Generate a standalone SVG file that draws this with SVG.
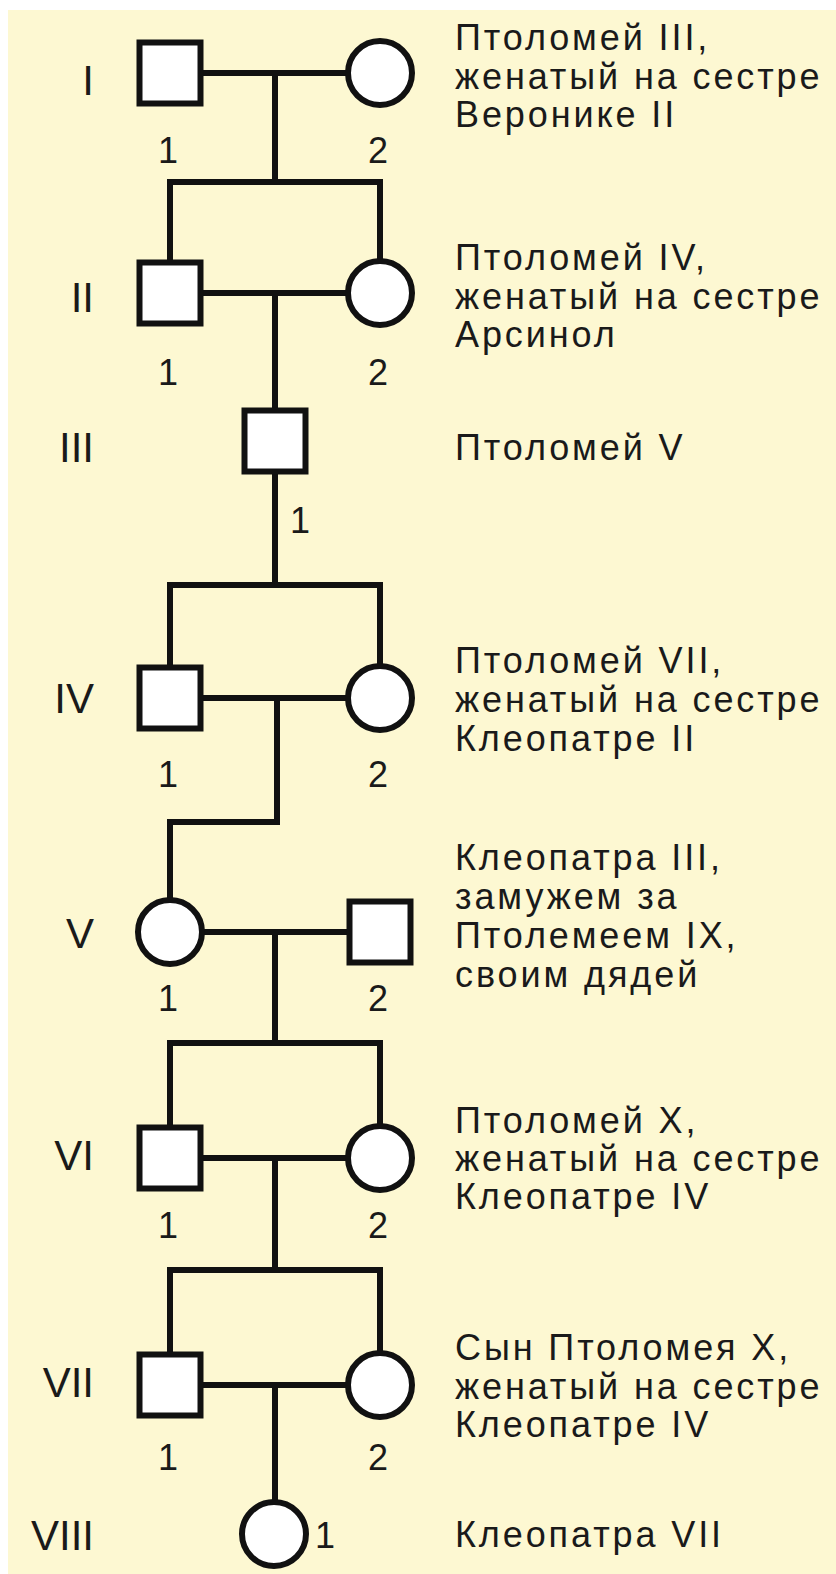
<svg xmlns="http://www.w3.org/2000/svg" width="836" height="1574" viewBox="0 0 836 1574">
  <style>
    .bg { fill: #fdf8d2; }
    .line { fill: none; stroke: #111; stroke-width: 6; stroke-linejoin: miter; }
    .node { fill: #ffffff; stroke: #111; stroke-width: 6; }
    .gen { font-family: "Liberation Sans", Arial, sans-serif; font-size: 42px; fill: #1a1a1a; text-anchor: end; }
    .num { font-family: "Liberation Sans", Arial, sans-serif; font-size: 36px; fill: #1a1a1a; text-anchor: middle; }
    .note { font-family: "Liberation Sans", Arial, sans-serif; font-size: 36px; fill: #1a1a1a; letter-spacing: 2.9px; }
  </style>

  <rect width="836" height="1574" fill="#ffffff"/>
  <rect class="bg" x="8" y="10" width="828" height="1564"/>

  <!-- generation numerals -->
  <g id="generations">
    <text class="gen" x="94" y="95">I</text>
    <text class="gen" x="94" y="312">II</text>
    <text class="gen" x="94" y="462">III</text>
    <text class="gen" x="94" y="713">IV</text>
    <text class="gen" x="94" y="948">V</text>
    <text class="gen" x="94" y="1170">VI</text>
    <text class="gen" x="94" y="1397">VII</text>
    <text class="gen" x="94" y="1550">VIII</text>
  </g>

  <!-- marriage, descent and sibship lines -->
  <g id="connectors">
    <!-- I -->
    <path class="line" d="M200,73 H348"/>
    <path class="line" d="M275,73 V182"/>
    <path class="line" d="M170,262 V182 H380 V262"/>
    <!-- II -->
    <path class="line" d="M200,293 H348"/>
    <path class="line" d="M275,293 V410"/>
    <!-- III -->
    <path class="line" d="M275,472 V585"/>
    <path class="line" d="M170,667 V585 H380 V667"/>
    <!-- IV -->
    <path class="line" d="M200,698 H348"/>
    <path class="line" d="M277,698 V822 H170 V900"/>
    <!-- V -->
    <path class="line" d="M202,932 H349"/>
    <path class="line" d="M275,932 V1043"/>
    <path class="line" d="M170,1127 V1043 H380 V1127"/>
    <!-- VI -->
    <path class="line" d="M200,1158 H348"/>
    <path class="line" d="M275,1158 V1270"/>
    <path class="line" d="M170,1354 V1270 H380 V1354"/>
    <!-- VII -->
    <path class="line" d="M200,1385 H348"/>
    <path class="line" d="M275,1385 V1502"/>
  </g>

  <!-- Generation I -->
  <g id="I-1">
    <rect class="node" x="139.5" y="42.5" width="61" height="61"/>
    <text class="num" x="168" y="163">1</text>
  </g>
  <g id="I-2">
    <circle class="node" cx="380" cy="73" r="32"/>
    <text class="num" x="378" y="163">2</text>
  </g>
  <g id="note-I">
    <text class="note" x="455" y="50">Птоломей III,</text>
    <text class="note" x="455" y="89">женатый на сестре</text>
    <text class="note" x="455" y="127">Веронике II</text>
  </g>

  <!-- Generation II -->
  <g id="II-1">
    <rect class="node" x="139.5" y="262.5" width="61" height="61"/>
    <text class="num" x="168" y="385">1</text>
  </g>
  <g id="II-2">
    <circle class="node" cx="380" cy="293" r="32"/>
    <text class="num" x="378" y="385">2</text>
  </g>
  <g id="note-II">
    <text class="note" x="455" y="270">Птоломей IV,</text>
    <text class="note" x="455" y="309">женатый на сестре</text>
    <text class="note" x="455" y="347">Арсинол</text>
  </g>

  <!-- Generation III -->
  <g id="III-1">
    <rect class="node" x="244.5" y="410.5" width="61" height="61"/>
    <text class="num" x="300" y="533">1</text>
  </g>
  <g id="note-III">
    <text class="note" x="455" y="460">Птоломей V</text>
  </g>

  <!-- Generation IV -->
  <g id="IV-1">
    <rect class="node" x="139.5" y="667.5" width="61" height="61"/>
    <text class="num" x="168" y="787">1</text>
  </g>
  <g id="IV-2">
    <circle class="node" cx="380" cy="698" r="32"/>
    <text class="num" x="378" y="787">2</text>
  </g>
  <g id="note-IV">
    <text class="note" x="455" y="673">Птоломей VII,</text>
    <text class="note" x="455" y="712">женатый на сестре</text>
    <text class="note" x="455" y="751">Клеопатре II</text>
  </g>

  <!-- Generation V -->
  <g id="V-1">
    <circle class="node" cx="170" cy="932" r="32"/>
    <text class="num" x="168" y="1011">1</text>
  </g>
  <g id="V-2">
    <rect class="node" x="349.5" y="901.5" width="61" height="61"/>
    <text class="num" x="378" y="1011">2</text>
  </g>
  <g id="note-V">
    <text class="note" x="455" y="870">Клеопатра III,</text>
    <text class="note" x="455" y="909">замужем за</text>
    <text class="note" x="455" y="948">Птолемеем IX,</text>
    <text class="note" x="455" y="987">своим дядей</text>
  </g>

  <!-- Generation VI -->
  <g id="VI-1">
    <rect class="node" x="139.5" y="1127.5" width="61" height="61"/>
    <text class="num" x="168" y="1238">1</text>
  </g>
  <g id="VI-2">
    <circle class="node" cx="380" cy="1158" r="32"/>
    <text class="num" x="378" y="1238">2</text>
  </g>
  <g id="note-VI">
    <text class="note" x="455" y="1133">Птоломей X,</text>
    <text class="note" x="455" y="1171">женатый на сестре</text>
    <text class="note" x="455" y="1209">Клеопатре IV</text>
  </g>

  <!-- Generation VII -->
  <g id="VII-1">
    <rect class="node" x="139.5" y="1354.5" width="61" height="61"/>
    <text class="num" x="168" y="1470">1</text>
  </g>
  <g id="VII-2">
    <circle class="node" cx="380" cy="1385" r="32"/>
    <text class="num" x="378" y="1470">2</text>
  </g>
  <g id="note-VII">
    <text class="note" x="455" y="1360">Сын Птоломея X,</text>
    <text class="note" x="455" y="1399">женатый на сестре</text>
    <text class="note" x="455" y="1437">Клеопатре IV</text>
  </g>

  <!-- Generation VIII -->
  <g id="VIII-1">
    <circle class="node" cx="274" cy="1534" r="32"/>
    <text class="num" x="325" y="1548">1</text>
  </g>
  <g id="note-VIII">
    <text class="note" x="455" y="1547">Клеопатра VII</text>
  </g>
</svg>
